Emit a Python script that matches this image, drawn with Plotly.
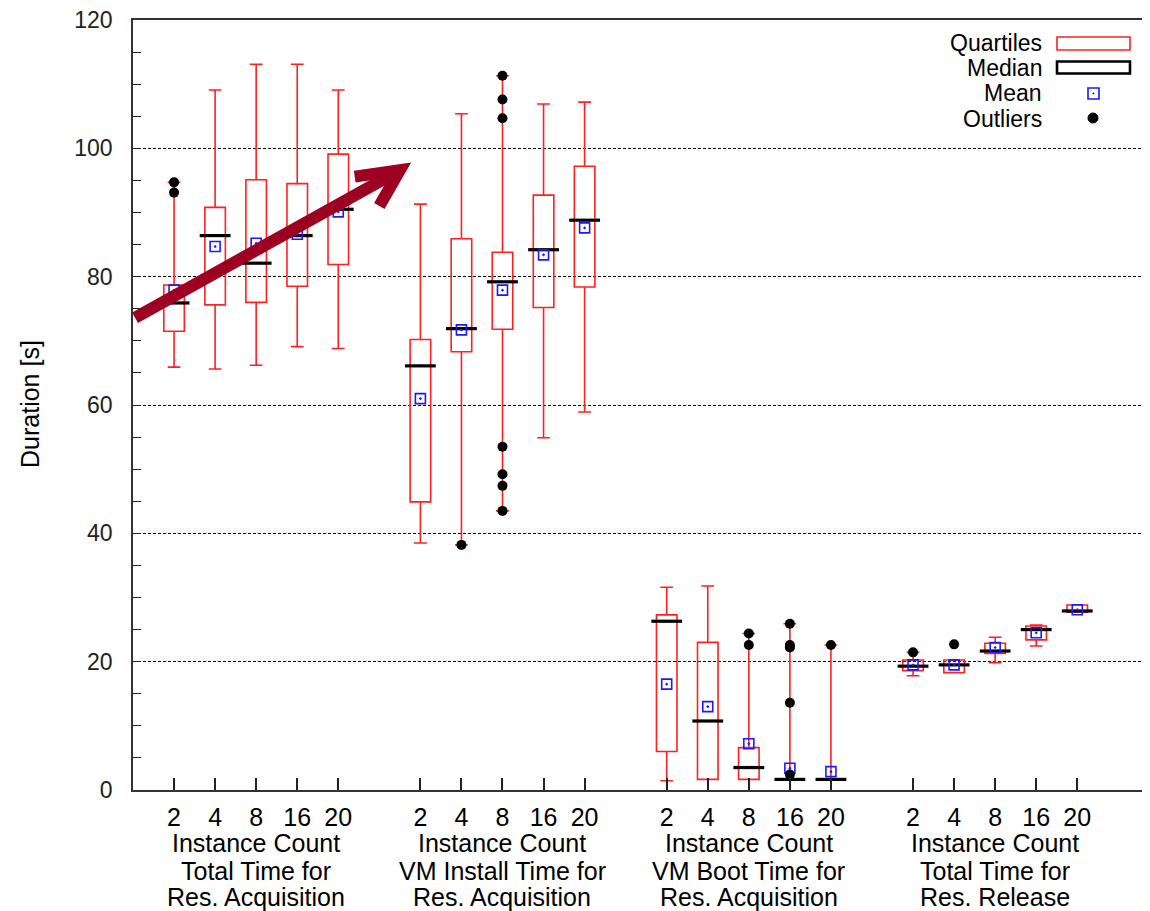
import plotly.graph_objects as go

# ---------------- data ----------------
counts = ["2", "4", "8", "16", "20"]
group_titles = [
    ["Total Time for", "Res. Acquisition"],
    ["VM Install Time for", "Res. Acquisition"],
    ["VM Boot Time for", "Res. Acquisition"],
    ["Total Time for", "Res. Release"],
]

# Total Time for Res. Acquisition
acq_low = [65.9, 65.6, 66.2, 69.1, 68.8]
acq_q1 = [71.5, 75.6, 76.0, 78.5, 81.9]
acq_med = [75.9, 86.4, 82.1, 86.4, 90.5]
acq_q3 = [78.7, 90.8, 95.1, 94.5, 99.1]
acq_high = [94.7, 109.1, 113.1, 113.1, 109.1]
acq_mean = [77.9, 84.7, 85.2, 86.6, 90.1]
acq_out = [[93.1, 94.7], [], [], [], []]

# VM Install Time for Res. Acquisition
inst_low = [38.5, 38.2, 43.5, 54.9, 58.9]
inst_q1 = [44.9, 68.3, 71.8, 75.2, 78.4]
inst_med = [66.1, 71.9, 79.2, 84.2, 88.8]
inst_q3 = [70.2, 85.9, 83.8, 92.7, 97.2]
inst_high = [91.3, 105.4, 111.3, 106.9, 107.2]
inst_mean = [61.0, 71.7, 77.9, 83.4, 87.6]
inst_out = [[], [38.2], [111.3, 107.6, 104.7, 53.5, 49.2, 47.4, 43.5], [], []]

# VM Boot Time for Res. Acquisition
boot_low = [1.45, 1.65, 1.65, 1.65, 1.65]
boot_q1 = [6.0, 1.65, 1.65, 1.65, 1.65]
boot_med = [26.3, 10.75, 3.5, 1.65, 1.65]
boot_q3 = [27.3, 23.0, 6.6, 1.65, 1.65]
boot_high = [31.6, 31.8, 24.4, 25.9, 22.6]
boot_mean = [16.5, 13.0, 7.2, 3.4, 2.86]
boot_out = [[], [], [24.4, 22.6], [25.9, 22.6, 22.2, 13.6, 2.4], [22.6]]

# Total Time for Res. Release
rel_low = [17.8, 18.3, 19.85, 22.44, 27.7]
rel_q1 = [18.6, 18.3, 21.3, 23.4, 27.7]
rel_med = [19.3, 19.5, 21.66, 25.0, 27.9]
rel_q3 = [20.26, 20.26, 22.86, 25.56, 28.83]
rel_high = [21.45, 20.26, 23.8, 25.7, 28.83]
rel_mean = [19.5, 19.5, 22.2, 24.5, 28.1]
rel_out = [[21.45], [22.7], [], [], []]

groups = [
    (acq_low, acq_q1, acq_med, acq_q3, acq_high, acq_mean, acq_out),
    (inst_low, inst_q1, inst_med, inst_q3, inst_high, inst_mean, inst_out),
    (boot_low, boot_q1, boot_med, boot_q3, boot_high, boot_mean, boot_out),
    (rel_low, rel_q1, rel_med, rel_q3, rel_high, rel_mean, rel_out),
]

# ---------------- build ----------------
REG = "Liberation Sans, Arial, Helvetica, sans-serif"

xs, lo, q1, med, q3, hi, mean = [], [], [], [], [], [], []
ox, oy = [], []
tickvals, ticktext = [], []
for g, (l, a, m, b, h, mn, outs) in enumerate(groups):
    for i in range(len(counts)):
        x = g * 6 + i + 1
        xs.append(x)
        lo.append(l[i]); q1.append(a[i]); med.append(m[i]); q3.append(b[i])
        hi.append(h[i]); mean.append(mn[i])
        tickvals.append(x); ticktext.append(counts[i])
        for v in outs[i]:
            ox.append(x); oy.append(v)

fig = go.Figure()
fig.add_trace(go.Box(
    x=xs, q1=q1, median=med, q3=q3, lowerfence=lo, upperfence=hi,
    width=0.5, whiskerwidth=0.62, boxpoints=False,
    line=dict(color="#ff2020", width=1.6), fillcolor="rgba(0,0,0,0)",
    showlegend=False, hoverinfo="skip",
))
fig.add_trace(go.Scatter(
    x=xs, y=med, mode="markers", showlegend=False,
    marker=dict(symbol="line-ew", size=22, line=dict(color="black", width=3.2)),
))
fig.add_trace(go.Scatter(
    x=xs, y=mean, mode="markers", showlegend=False,
    marker=dict(symbol="square-open-dot", size=10, color="#1a1aff",
                line=dict(color="#1a1aff", width=1.6)),
))
fig.add_trace(go.Scatter(
    x=ox, y=oy, mode="markers", showlegend=False,
    marker=dict(symbol="circle", size=10, color="black"),
))

# arrow (annotation overlay)
ARROW = "#9e0021"
tail = (0.05, 73.6)
tip = (6.50, 96.6)
arm1 = (5.40, 95.6)
arm2 = (6.00, 91.0)
fig.add_shape(type="path", xref="x", yref="y",
              path=f"M {tail[0]},{tail[1]} L {tip[0]},{tip[1]}",
              line=dict(color=ARROW, width=12))
fig.add_shape(type="path", xref="x", yref="y",
              path=f"M {arm1[0]},{arm1[1]} L {tip[0]},{tip[1]} L {arm2[0]},{arm2[1]}",
              line=dict(color=ARROW, width=12))

# legend (manual, text on the left)
def px2paper(px, py):
    return (px - 133) / 1012, (790 - py) / 770

leg_items = ["Quartiles", "Median", "Mean", "Outliers"]
leg_y = [43, 68, 93, 119]
for t, yy in zip(leg_items, leg_y):
    xp, yp = px2paper(1043, yy)
    fig.add_annotation(x=xp, y=yp, xref="paper", yref="paper", text=t,
                       showarrow=False, xanchor="right", yanchor="middle",
                       borderpad=0,
                       font=dict(family=REG, size=23, color="black"))
x0, y0 = px2paper(1057, 37); x1, y1 = px2paper(1130, 50)
fig.add_shape(type="rect", xref="paper", yref="paper", x0=x0, y0=y0, x1=x1, y1=y1,
              line=dict(color="#ff2020", width=1.6))
x0, y0 = px2paper(1057, 61.5); x1, y1 = px2paper(1130, 73.5)
fig.add_shape(type="rect", xref="paper", yref="paper", x0=x0, y0=y0, x1=x1, y1=y1,
              line=dict(color="black", width=2.6))
x0, y0 = px2paper(1088, 88); x1, y1 = px2paper(1099, 99)
fig.add_shape(type="rect", xref="paper", yref="paper", x0=x0, y0=y0, x1=x1, y1=y1,
              line=dict(color="#1a1aff", width=1.6))
x0, y0 = px2paper(1093, 93); x1, y1 = px2paper(1094, 94)
fig.add_shape(type="rect", xref="paper", yref="paper", x0=x0, y0=y0, x1=x1, y1=y1,
              line=dict(color="#1a1aff", width=1), fillcolor="#1a1aff")
x0, y0 = px2paper(1088, 113); x1, y1 = px2paper(1098, 123)
fig.add_shape(type="circle", xref="paper", yref="paper", x0=x0, y0=y0, x1=x1, y1=y1,
              line=dict(color="black", width=1), fillcolor="black")

# group labels under the axis
for g, lines in enumerate(group_titles):
    cx = g * 6 + 3
    for text, py in zip(["Instance Count"] + lines, [843, 871, 897]):
        fig.add_annotation(x=cx, y=(790 - py) / 770, xref="x", yref="paper",
                           text=text, showarrow=False, xanchor="center",
                           yanchor="middle", borderpad=0,
                           font=dict(family=REG, size=25, color="black"))

fig.add_annotation(x=(30 - 133) / 1012, y=(790 - 404) / 770, xref="paper", yref="paper",
                   text="Duration [s]", showarrow=False, textangle=-90,
                   xanchor="center", yanchor="middle",
                   font=dict(family=REG, size=25, color="black"))

# page body has an 8px margin: shrink figure and shift margins to compensate
fig.update_layout(
    width=1142, height=903,
    margin=dict(l=125, r=5, t=12, b=121, autoexpand=False),
    paper_bgcolor="white", plot_bgcolor="white",
    showlegend=False,
    xaxis=dict(range=[0, 24.65], tickvals=tickvals, ticktext=ticktext,
               ticks="inside", ticklen=12, tickwidth=1.5, tickcolor="#222",
               ticklabelstandoff=4, automargin=False,
               showgrid=False, zeroline=False,
               showline=True, linecolor="#333", linewidth=1.6, mirror=True,
               tickfont=dict(family=REG, size=25, color="black")),
    yaxis=dict(range=[0, 120], tickvals=[0, 20, 40, 60, 80, 100, 120],
               ticks="inside", ticklen=8, tickwidth=1.3, tickcolor="#222",
               ticklabelstandoff=14, ticklabeloverflow="allow", automargin=False,
               minor=dict(dtick=5, ticks="inside", ticklen=8, tickwidth=1.3,
                          tickcolor="#222", showgrid=False),
               showgrid=True, gridcolor="black", gridwidth=1, griddash="3px,2px",
               zeroline=False,
               showline=True, linecolor="#333", linewidth=1.6, mirror=True,
               tickfont=dict(family=REG, size=23, color="#222")),
)

fig.write_html("out.html")
